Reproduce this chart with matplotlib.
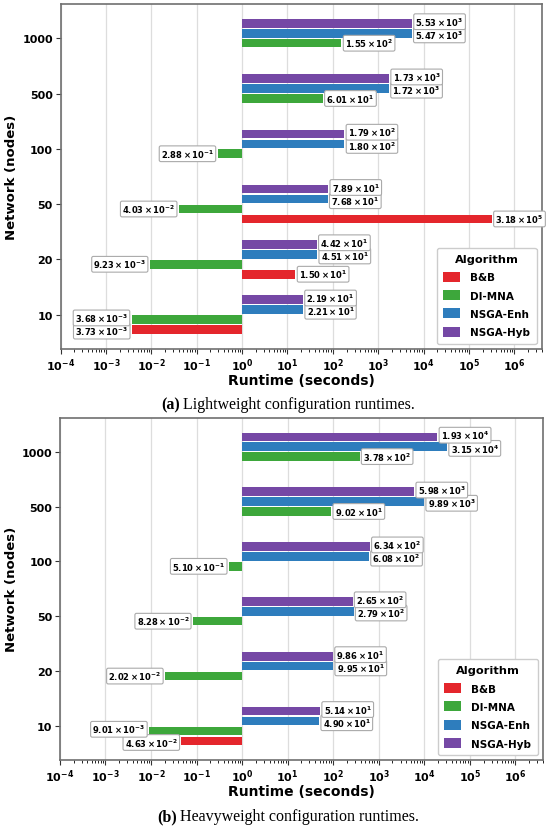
import numpy as np
import matplotlib
matplotlib.use("Agg")
import matplotlib.pyplot as plt
from matplotlib.ticker import FixedLocator, LogLocator, NullFormatter

nan = np.nan

# network sizes and algorithms
networks = ["10", "20", "50", "100", "500", "1000"]
algorithms = ["B&B", "DI-MNA", "NSGA-Enh", "NSGA-Hyb"]
colors = ["#e4262c", "#3da73b", "#2e7dbd", "#7548a5"]

# (a) lightweight configuration runtimes (seconds)
light_bb = [3.73e-3, 1.50e1, 3.18e5, nan, nan, nan]
light_dimna = [3.68e-3, 9.23e-3, 4.03e-2, 2.88e-1, 6.01e1, 1.55e2]
light_enh = [2.21e1, 4.51e1, 7.68e1, 1.80e2, 1.72e3, 5.47e3]
light_hyb = [2.19e1, 4.42e1, 7.89e1, 1.79e2, 1.73e3, 5.53e3]

# (b) heavyweight configuration runtimes (seconds)
heavy_bb = [4.63e-2, nan, nan, nan, nan, nan]
heavy_dimna = [9.01e-3, 2.02e-2, 8.28e-2, 5.10e-1, 9.02e1, 3.78e2]
heavy_enh = [4.90e1, 9.95e1, 2.79e2, 6.08e2, 9.89e3, 3.15e4]
heavy_hyb = [5.14e1, 9.86e1, 2.65e2, 6.34e2, 5.98e3, 1.93e4]

xtick_exps = [-4, -3, -2, -1, 0, 1, 2, 3, 4, 5, 6]

PITCH = 0.18
OFFSETS = [-1.5, -0.5, 0.5, 1.5]
YPAD = 0.62


def sci_label(v):
    e = int(np.floor(np.log10(v)))
    m = v / 10.0 ** e
    if round(m, 2) >= 10:
        m /= 10
        e += 1
    return r"$\mathbf{%.2f\times10^{%d}}$" % (m, e)


def spread_labels(items, pt_per_unit, sep=9.5, width_dec=1.2):
    # items: list of (base_y, value); returns vertical shifts in points
    base = np.array([b * pt_per_unit for b, _ in items])
    pos = base.copy()
    logs = [np.log10(v) for _, v in items]
    right = [v >= 1 for _, v in items]
    for _ in range(60):
        for i in range(len(items)):
            for j in range(i + 1, len(items)):
                if right[i] != right[j] or abs(logs[i] - logs[j]) > width_dec:
                    continue
                d = pos[j] - pos[i]
                if abs(d) < sep:
                    push = (sep - abs(d)) / 2
                    sgn = 1 if d >= 0 else -1
                    pos[i] -= sgn * push
                    pos[j] += sgn * push
    return pos - base


def draw_panel(ax, series, ax_height_in):
    y = np.arange(len(networks))
    pt_per_unit = ax_height_in * 72 / (len(networks) - 1 + 2 * YPAD)
    labels = {i: [] for i in range(len(networks))}
    for vals, name, col, off in zip(series, algorithms, colors, OFFSETS):
        vals = np.array(vals, dtype=float)
        ok = ~np.isnan(vals)
        yy = y[ok] + off * PITCH
        ax.barh(yy, vals[ok] - 1, left=1, height=0.155, color=col,
                label=name, zorder=3)
        for g in y[ok]:
            labels[g].append((off * PITCH, vals[g]))

    for g, items in labels.items():
        shifts = spread_labels(items, pt_per_unit)
        for (b, v), s in zip(items, shifts):
            dx = 2.5 if v >= 1 else -2.5
            ax.annotate(sci_label(v), (v, g + b), xytext=(dx, s),
                        textcoords="offset points",
                        ha="left" if v >= 1 else "right", va="center",
                        fontsize=6,
                        bbox=dict(boxstyle="round,pad=0.2", fc="white",
                                  ec="#aaaaaa", lw=0.8), zorder=4)

    ax.set_xscale("log")
    ax.set_xlim(1e-4, 4e6)
    ax.set_ylim(-YPAD, len(networks) - 1 + YPAD)
    ax.set_yticks(y)
    ax.set_yticklabels(networks, fontsize=8, fontweight="bold")
    ax.xaxis.set_major_locator(FixedLocator([10.0 ** e for e in xtick_exps]))
    ax.set_xticklabels([r"$\mathbf{10^{%d}}$" % e for e in xtick_exps], fontsize=8)
    ax.xaxis.set_minor_locator(LogLocator(base=10, subs=np.arange(2, 10), numticks=30))
    ax.xaxis.set_minor_formatter(NullFormatter())
    ax.grid(axis="x", which="major", color="#dddddd", lw=0.9, zorder=0)
    ax.set_xlabel("Runtime (seconds)", fontsize=10, fontweight="bold", labelpad=0)
    ax.set_ylabel("Network (nodes)", fontsize=9.5, fontweight="bold", labelpad=3)
    for s in ax.spines.values():
        s.set_color("#6f6f6f")
        s.set_linewidth(1.2)
    ax.tick_params(axis="both", colors="#333333", labelcolor="black", pad=2)
    ax.legend(title="Algorithm", loc="lower right",
              prop={"weight": "bold", "size": 7.5},
              title_fontproperties={"weight": "bold", "size": 8.2},
              handlelength=1.6, handleheight=1.1, handletextpad=1.0,
              labelspacing=0.75, borderpad=0.6,
              fancybox=True, framealpha=1, edgecolor="#cccccc")


fig = plt.figure(figsize=(5.5, 8.29), dpi=100)
ax1 = fig.add_axes([0.110, 0.578, 0.875, 0.416])
ax2 = fig.add_axes([0.109, 0.082, 0.878, 0.413])

draw_panel(ax1, [light_bb, light_dimna, light_enh, light_hyb], 8.29 * 0.416)
draw_panel(ax2, [heavy_bb, heavy_dimna, heavy_enh, heavy_hyb], 8.29 * 0.413)

serif = "Liberation Serif"
fig.text(0.328, 0.511, "(a)", ha="right", va="center", fontsize=11.5,
         fontweight="bold", family=serif)
fig.text(0.333, 0.511, "Lightweight configuration runtimes.", ha="left",
         va="center", fontsize=11.5, family=serif)
fig.text(0.322, 0.0145, "(b)", ha="right", va="center", fontsize=11.5,
         fontweight="bold", family=serif)
fig.text(0.327, 0.0145, "Heavyweight configuration runtimes.", ha="left",
         va="center", fontsize=11.5, family=serif)

fig.savefig("out.png", dpi=100)
